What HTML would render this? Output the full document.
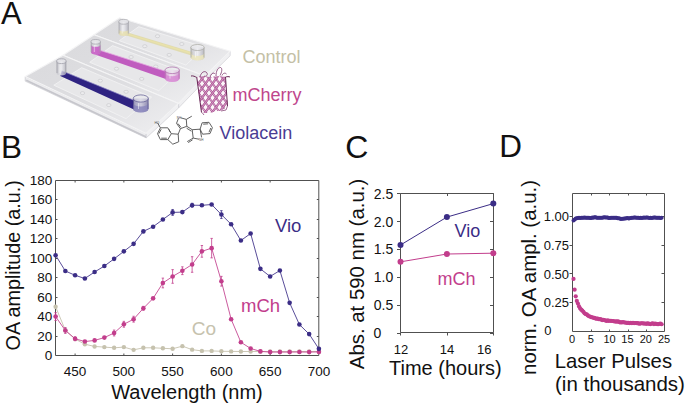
<!DOCTYPE html>
<html><head><meta charset="utf-8"><style>
html,body{margin:0;padding:0;background:#fff;}
svg{display:block;}
text{font-family:"Liberation Sans",sans-serif;}
</style></head><body>
<svg width="685" height="406" viewBox="0 0 685 406">
<rect width="685" height="406" fill="#fff"/>
<defs>
<linearGradient id="slg" x1="0" y1="0" x2="1" y2="1"><stop offset="0" stop-color="#dadadd"/><stop offset="0.5" stop-color="#dedee1"/><stop offset="1" stop-color="#efeff1"/></linearGradient>
<linearGradient id="cylV" x1="0" y1="0" x2="1" y2="0"><stop offset="0" stop-color="#7e7aa8"/><stop offset="0.5" stop-color="#c4c2da"/><stop offset="1" stop-color="#6e6a9c"/></linearGradient>
<linearGradient id="cylM" x1="0" y1="0" x2="1" y2="0"><stop offset="0" stop-color="#d596d2"/><stop offset="0.5" stop-color="#f0d8ee"/><stop offset="1" stop-color="#c97fc6"/></linearGradient>
<linearGradient id="cylY" x1="0" y1="0" x2="1" y2="0"><stop offset="0" stop-color="#cfccbb"/><stop offset="0.5" stop-color="#efede2"/><stop offset="1" stop-color="#c2bfac"/></linearGradient>
<linearGradient id="cylC" x1="0" y1="0" x2="1" y2="0"><stop offset="0" stop-color="#bdbdc4"/><stop offset="0.5" stop-color="#eeeef2"/><stop offset="1" stop-color="#aeaeb8"/></linearGradient>
<linearGradient id="thk" x1="0" y1="0" x2="0" y2="1"><stop offset="0" stop-color="#f6f6f7"/><stop offset="1" stop-color="#cfcfd5"/></linearGradient>
</defs>
<polygon points="205.0,76.0 230.2,51.2 230.2,55.7 205.0,80.5" fill="#f0f0f2" stroke="#cacace" stroke-width="0.6"/>
<polygon points="94.0,34.7 119.6,17.8 230.2,51.2 205.0,76.0" fill="url(#slg)" stroke="#f4f4f5" stroke-width="1.1" stroke-linejoin="round"/>
<polygon points="119.3,40.7 138.7,26.7 205.0,47.3 185.8,65.0" fill="#e7e7e9" stroke="#f2f2f3" stroke-width="0.9"/>
<ellipse cx="144.8" cy="46.2" rx="2.2" ry="1.5" fill="#ececee" stroke="#c6c6ca" stroke-width="0.6"/>
<ellipse cx="157.5" cy="36.2" rx="2.2" ry="1.5" fill="#ececee" stroke="#c6c6ca" stroke-width="0.6"/>
<ellipse cx="169.2" cy="54.9" rx="2.2" ry="1.5" fill="#ececee" stroke="#c6c6ca" stroke-width="0.6"/>
<ellipse cx="181.8" cy="44.0" rx="2.2" ry="1.5" fill="#ececee" stroke="#c6c6ca" stroke-width="0.6"/>
<polygon points="178.6,103.4 205.0,76.0 205.0,80.5 178.6,107.9" fill="#f0f0f2" stroke="#cacace" stroke-width="0.6"/>
<polygon points="63.0,55.3 94.0,34.7 205.0,76.0 178.6,103.4" fill="url(#slg)" stroke="#f4f4f5" stroke-width="1.1" stroke-linejoin="round"/>
<polygon points="89.7,62.3 112.6,45.6 179.5,70.9 158.8,90.7" fill="#e7e7e9" stroke="#f2f2f3" stroke-width="0.9"/>
<ellipse cx="116.5" cy="68.7" rx="2.2" ry="1.5" fill="#ececee" stroke="#c6c6ca" stroke-width="0.6"/>
<ellipse cx="131.1" cy="57.0" rx="2.2" ry="1.5" fill="#ececee" stroke="#c6c6ca" stroke-width="0.6"/>
<ellipse cx="141.7" cy="78.9" rx="2.2" ry="1.5" fill="#ececee" stroke="#c6c6ca" stroke-width="0.6"/>
<ellipse cx="155.8" cy="66.5" rx="2.2" ry="1.5" fill="#ececee" stroke="#c6c6ca" stroke-width="0.6"/>
<polygon points="25.2,76.6 146.2,133.4 146.2,137.9 25.2,81.1" fill="#ececee" stroke="#c4c4ca" stroke-width="0.6"/>
<path d="M26.2,80.2 L146.2,137.0" stroke="#c6c6cc" stroke-width="1.6"/>
<polygon points="146.2,133.4 178.6,103.4 178.6,107.9 146.2,137.9" fill="#f0f0f2" stroke="#cacace" stroke-width="0.6"/>
<polygon points="25.2,76.6 63.0,55.3 178.6,103.4 146.2,133.4" fill="url(#slg)" stroke="#f4f4f5" stroke-width="1.1" stroke-linejoin="round"/>
<polygon points="53.8,85.2 81.7,67.7 151.5,97.2 126.0,118.6" fill="#e7e7e9" stroke="#f2f2f3" stroke-width="0.9"/>
<ellipse cx="82.5" cy="93.1" rx="2.2" ry="1.5" fill="#ececee" stroke="#c6c6ca" stroke-width="0.6"/>
<ellipse cx="100.3" cy="80.7" rx="2.2" ry="1.5" fill="#ececee" stroke="#c6c6ca" stroke-width="0.6"/>
<ellipse cx="108.8" cy="105.1" rx="2.2" ry="1.5" fill="#ececee" stroke="#c6c6ca" stroke-width="0.6"/>
<ellipse cx="126.1" cy="91.8" rx="2.2" ry="1.5" fill="#ececee" stroke="#c6c6ca" stroke-width="0.6"/><polygon points="124.5,31.6 193,52.2 193,56.0 123.3,34.6" fill="#dfd9aa" opacity="0.9"/>
<polygon points="124.5,32.4 193,53.0 193,54.4 124,33.6" fill="#ece4a8" opacity="0.8"/>
<path d="M118.7 21.8 V33.5 A5.0 2.4 0 0 0 128.7 33.5 V21.8 Z" fill="url(#cylC)" opacity="0.8"/>
<path d="M118.7 29.0 V33.5 A5.0 2.4 0 0 0 128.7 33.5 V29.0 A5.0 2.4 0 0 1 118.7 29.0 Z" fill="#e8e0b0" opacity="0.85"/>
<path d="M119.1 21.8 V33.5 M128.3 21.8 V33.5" stroke="#a8a8ae" stroke-width="0.8" opacity="0.9"/>
<path d="M122.2 25.2 V33.5" stroke="#ffffff" stroke-width="1.0" opacity="0.5"/>
<ellipse cx="123.7" cy="21.8" rx="5.0" ry="2.4" fill="#ececf0" fill-opacity="0.5" stroke="#a8a8ae" stroke-width="0.7"/>
<path d="M190.7 47.5 V57.5 A6.8 3.0 0 0 0 204.3 57.5 V47.5 Z" fill="url(#cylC)" opacity="0.8"/>
<path d="M190.7 53.0 V57.5 A6.8 3.0 0 0 0 204.3 57.5 V53.0 A6.8 3.0 0 0 1 190.7 53.0 Z" fill="#ece6bc" opacity="0.85"/>
<path d="M191.1 47.5 V57.5 M203.9 47.5 V57.5" stroke="#a8a8a0" stroke-width="0.8" opacity="0.9"/>
<path d="M195.5 51.5 V57.5" stroke="#ffffff" stroke-width="1.0" opacity="0.5"/>
<ellipse cx="197.5" cy="47.5" rx="6.8" ry="3.0" fill="#ececf0" fill-opacity="0.5" stroke="#a8a8a0" stroke-width="0.7"/>
<polygon points="96.5,49.2 166.5,71.6 166.5,79.2 93.5,53.9" fill="#c05cbf"/>
<path d="M96.5 49.2 L166.5 71.6" stroke="#e3a6e0" stroke-width="0.8"/>
<path d="M90.9 41.8 V52.0 A4.8 2.3 0 0 0 100.5 52.0 V41.8 Z" fill="url(#cylC)" opacity="0.75"/>
<path d="M90.9 44.5 V52.0 A4.8 2.3 0 0 0 100.5 52.0 V44.5 A4.8 2.3 0 0 1 90.9 44.5 Z" fill="#c85ac6" opacity="0.85"/>
<path d="M91.3 41.8 V52.0 M100.1 41.8 V52.0" stroke="#a4a4ac" stroke-width="0.8" opacity="0.9"/>
<path d="M94.3 45.1 V52.0" stroke="#ffffff" stroke-width="1.0" opacity="0.5"/>
<ellipse cx="95.7" cy="41.8" rx="4.8" ry="2.3" fill="#ececf0" fill-opacity="0.5" stroke="#a4a4ac" stroke-width="0.7"/>
<path d="M164.9 70.3 V78.6 A7.3 3.3 0 0 0 179.5 78.6 V70.3 Z" fill="url(#cylM)" opacity="0.75"/>
<path d="M164.9 73.0 V78.6 A7.3 3.3 0 0 0 179.5 78.6 V73.0 A7.3 3.3 0 0 1 164.9 73.0 Z" fill="#d78ad4" opacity="0.85"/>
<path d="M165.3 70.3 V78.6 M179.1 70.3 V78.6" stroke="#ad6aaa" stroke-width="0.8" opacity="0.9"/>
<path d="M170.0 74.6 V78.6" stroke="#ffffff" stroke-width="1.0" opacity="0.5"/>
<ellipse cx="172.2" cy="70.3" rx="7.3" ry="3.3" fill="#ececf0" fill-opacity="0.5" stroke="#ad6aaa" stroke-width="0.7"/>
<polygon points="61.8,70.8 134,100.3 134,109.6 60.3,76.0" fill="#2f2382"/>
<path d="M61.8 70.8 L134 100.3" stroke="#8c86c4" stroke-width="0.7"/>
<path d="M56.6 61.2 V73.0 A4.8 2.4 0 0 0 66.2 73.0 V61.2 Z" fill="url(#cylC)" opacity="0.75"/>
<path d="M57.0 61.2 V73.0 M65.8 61.2 V73.0" stroke="#9c9ca6" stroke-width="0.8" opacity="0.9"/>
<path d="M60.0 64.6 V73.0" stroke="#ffffff" stroke-width="1.0" opacity="0.5"/>
<ellipse cx="61.4" cy="61.2" rx="4.8" ry="2.4" fill="#ececf0" fill-opacity="0.5" stroke="#9c9ca6" stroke-width="0.7"/>
<path d="M133.2 98.5 V109.0 A7.6 3.6 0 0 0 148.4 109.0 V98.5 Z" fill="url(#cylV)" opacity="0.75"/>
<path d="M133.2 103.0 V109.0 A7.6 3.6 0 0 0 148.4 109.0 V103.0 A7.6 3.6 0 0 1 133.2 103.0 Z" fill="#8a86bc" opacity="0.85"/>
<path d="M133.6 98.5 V109.0 M148.0 98.5 V109.0" stroke="#5c5890" stroke-width="0.8" opacity="0.9"/>
<path d="M138.5 103.1 V109.0" stroke="#ffffff" stroke-width="1.0" opacity="0.5"/>
<ellipse cx="140.8" cy="98.5" rx="7.6" ry="3.6" fill="#ececf0" fill-opacity="0.5" stroke="#5c5890" stroke-width="0.7"/><defs><clipPath id="barrel"><path d="M196.8 77.5 C200 75.5 206 76 210 77.5 C215 76 221 76 225.5 77 L227.5 106 C225 109 221 111 216 111.5 C211 112.5 205 113.5 201.5 112.5 Z"/></clipPath></defs>
<path d="M196.8 77.5 C200 75.5 206 76 210 77.5 C215 76 221 76 225.5 77 L227.5 106 C225 109 221 111 216 111.5 C211 112.5 205 113.5 201.5 112.5 Z" fill="#fdf6fa"/>
<g clip-path="url(#barrel)" fill="none">
<path d="M103.0 68 L137.0 114 M110.0 68 L144.0 114 M117.0 68 L151.0 114 M124.0 68 L158.0 114 M131.0 68 L165.0 114 M138.0 68 L172.0 114 M145.0 68 L179.0 114 M152.0 68 L186.0 114 M159.0 68 L193.0 114 M166.0 68 L200.0 114 M173.0 68 L207.0 114 M180.0 68 L214.0 114 M187.0 68 L221.0 114 M194.0 68 L228.0 114 M201.0 68 L235.0 114 M208.0 68 L242.0 114 M215.0 68 L249.0 114 M222.0 68 L256.0 114 M229.0 68 L263.0 114 M236.0 68 L270.0 114 M243.0 68 L277.0 114 M250.0 68 L284.0 114 M257.0 68 L291.0 114 M264.0 68 L298.0 114 M271.0 68 L305.0 114 M278.0 68 L312.0 114" stroke="#a55a92" stroke-width="2.0"/>
<path d="M103.0 68 L137.0 114 M110.0 68 L144.0 114 M117.0 68 L151.0 114 M124.0 68 L158.0 114 M131.0 68 L165.0 114 M138.0 68 L172.0 114 M145.0 68 L179.0 114 M152.0 68 L186.0 114 M159.0 68 L193.0 114 M166.0 68 L200.0 114 M173.0 68 L207.0 114 M180.0 68 L214.0 114 M187.0 68 L221.0 114 M194.0 68 L228.0 114 M201.0 68 L235.0 114 M208.0 68 L242.0 114 M215.0 68 L249.0 114 M222.0 68 L256.0 114 M229.0 68 L263.0 114 M236.0 68 L270.0 114 M243.0 68 L277.0 114 M250.0 68 L284.0 114 M257.0 68 L291.0 114 M264.0 68 L298.0 114 M271.0 68 L305.0 114 M278.0 68 L312.0 114" stroke="#e2a8d2" stroke-width="1.0"/>
<path d="M106.0 114 L140.0 68 M113.0 114 L147.0 68 M120.0 114 L154.0 68 M127.0 114 L161.0 68 M134.0 114 L168.0 68 M141.0 114 L175.0 68 M148.0 114 L182.0 68 M155.0 114 L189.0 68 M162.0 114 L196.0 68 M169.0 114 L203.0 68 M176.0 114 L210.0 68 M183.0 114 L217.0 68 M190.0 114 L224.0 68 M197.0 114 L231.0 68 M204.0 114 L238.0 68 M211.0 114 L245.0 68 M218.0 114 L252.0 68 M225.0 114 L259.0 68 M232.0 114 L266.0 68 M239.0 114 L273.0 68 M246.0 114 L280.0 68 M253.0 114 L287.0 68 M260.0 114 L294.0 68 M267.0 114 L301.0 68 M274.0 114 L308.0 68 M281.0 114 L315.0 68" stroke="#9c5089" stroke-width="2.2"/>
<path d="M106.0 114 L140.0 68 M113.0 114 L147.0 68 M120.0 114 L154.0 68 M127.0 114 L161.0 68 M134.0 114 L168.0 68 M141.0 114 L175.0 68 M148.0 114 L182.0 68 M155.0 114 L189.0 68 M162.0 114 L196.0 68 M169.0 114 L203.0 68 M176.0 114 L210.0 68 M183.0 114 L217.0 68 M190.0 114 L224.0 68 M197.0 114 L231.0 68 M204.0 114 L238.0 68 M211.0 114 L245.0 68 M218.0 114 L252.0 68 M225.0 114 L259.0 68 M232.0 114 L266.0 68 M239.0 114 L273.0 68 M246.0 114 L280.0 68 M253.0 114 L287.0 68 M260.0 114 L294.0 68 M267.0 114 L301.0 68 M274.0 114 L308.0 68 M281.0 114 L315.0 68" stroke="#d68cc0" stroke-width="1.1"/>
</g>
<path d="M191 76 C193 75.5 195 76.5 196.8 77.5 M196.8 77.5 L201.5 112.5 M225.5 77 L227.5 106 M225.5 77 C227 76.5 229 76.5 230 77" stroke="#6a2a58" stroke-width="1.0" fill="none"/>
<path d="M200 77 C201 72 205 70 207 73 C208 75 206 77 204 76 M210 77.5 C211 73 214 72 215 74 M216 76 C216 71 218 67.5 220.5 67.5 C222.5 68 222 72 220 75.5 M222 75.5 C223 73 225 72.5 226.5 74" stroke="#8a4a7a" stroke-width="0.9" fill="none"/>
<path d="M202 112.5 L204 115 M221 111 L226 110 L227.5 106" stroke="#8a4a7a" stroke-width="0.8" fill="none"/>
<path d="M160.4 127.8 L167.8 127.8 L171.3 133.7 L167.8 139.6 L160.4 139.6 L157.5 133.7 Z M161.2 129.2 L158.8 133.7 M161.2 138.2 L166.8 138.2 M168.8 129.2 L170.2 132 M160.4 127.8 L157.5 122.8 M171.3 133.7 L178.2 134.2 L178.7 141.8 L172.8 144.2 L167.8 139.6 M178.2 134.2 L180.4 128.7 M180.4 128.7 L176.5 123.3 L178.4 118.6 M180.8 117.8 L186.3 119.4 L186.8 126.3 L180.4 128.7 M177.9 123.5 L181.0 127.4 M186.3 119.4 L191.8 116.2 M186.8 126.3 L192.2 129.7 M186.6 128.2 L191.4 131.2 M192.2 129.7 L200.1 129.2 L201.6 137.4 M199 139.2 L193.2 138.1 L192.2 129.7 M193.2 138.1 L187.2 141.6 M192.6 139.8 L188.2 142.6 M200.1 129.2 L202.1 122.8 L209 122.3 L212.4 127.7 L210 133.6 L202.6 134.2 Z M203.2 124.2 L208.2 123.8 M210.8 128 L209 132.2" stroke="#505050" stroke-width="0.9" fill="none" stroke-linejoin="round"/>
<text x="154.5" y="124" font-size="3.2" fill="#505050">HO</text>
<text x="176.8" y="118.8" font-size="3" fill="#505050">NH</text>
<text x="199" y="141" font-size="3" fill="#505050">NH</text>
<g stroke="#505050" stroke-width="1" fill="none">
<path d="M55.5 180.5H318.8V355.5H55.5Z"/>
<path d="M55.5 336.5h2M318.8 336.5h-2"/>
<path d="M55.5 316.5h2M318.8 316.5h-2"/>
<path d="M55.5 297.5h2M318.8 297.5h-2"/>
<path d="M55.5 277.5h2M318.8 277.5h-2"/>
<path d="M55.5 258.5h2M318.8 258.5h-2"/>
<path d="M55.5 238.5h2M318.8 238.5h-2"/>
<path d="M55.5 219.5h2M318.8 219.5h-2"/>
<path d="M55.5 199.5h2M318.8 199.5h-2"/>
<path d="M75.10 355.5v-2M75.10 180.5v2"/>
<path d="M123.86 355.5v-2M123.86 180.5v2"/>
<path d="M172.62 355.5v-2M172.62 180.5v2"/>
<path d="M221.38 355.5v-2M221.38 180.5v2"/>
<path d="M270.14 355.5v-2M270.14 180.5v2"/>
</g>
<polyline points="55.60,306.73 65.35,330.28 75.10,339.04 84.86,344.20 94.61,346.44 104.36,347.12 114.11,347.80 123.86,347.12 133.61,349.85 143.37,347.80 153.12,347.80 162.87,348.29 172.62,348.78 182.37,346.15 192.13,349.65 201.88,350.92 211.63,350.92 221.38,351.31 231.13,351.40 240.89,351.50 250.64,351.50 260.39,351.50 270.14,351.50 279.89,351.50 289.64,351.50 299.40,351.50 309.15,351.50 318.90,351.50" fill="none" stroke="#c6c2ae" stroke-width="0.9" stroke-linejoin="round"/>
<circle cx="55.60" cy="306.73" r="2.2" fill="#c6c2ae"/>
<circle cx="65.35" cy="330.28" r="2.2" fill="#c6c2ae"/>
<circle cx="75.10" cy="339.04" r="2.2" fill="#c6c2ae"/>
<circle cx="84.86" cy="344.20" r="2.2" fill="#c6c2ae"/>
<circle cx="94.61" cy="346.44" r="2.2" fill="#c6c2ae"/>
<circle cx="104.36" cy="347.12" r="2.2" fill="#c6c2ae"/>
<circle cx="114.11" cy="347.80" r="2.2" fill="#c6c2ae"/>
<circle cx="123.86" cy="347.12" r="2.2" fill="#c6c2ae"/>
<circle cx="133.61" cy="349.85" r="2.2" fill="#c6c2ae"/>
<circle cx="143.37" cy="347.80" r="2.2" fill="#c6c2ae"/>
<circle cx="153.12" cy="347.80" r="2.2" fill="#c6c2ae"/>
<circle cx="162.87" cy="348.29" r="2.2" fill="#c6c2ae"/>
<circle cx="172.62" cy="348.78" r="2.2" fill="#c6c2ae"/>
<circle cx="182.37" cy="346.15" r="2.2" fill="#c6c2ae"/>
<circle cx="192.13" cy="349.65" r="2.2" fill="#c6c2ae"/>
<circle cx="201.88" cy="350.92" r="2.2" fill="#c6c2ae"/>
<circle cx="211.63" cy="350.92" r="2.2" fill="#c6c2ae"/>
<circle cx="221.38" cy="351.31" r="2.2" fill="#c6c2ae"/>
<circle cx="231.13" cy="351.40" r="2.2" fill="#c6c2ae"/>
<circle cx="240.89" cy="351.50" r="2.2" fill="#c6c2ae"/>
<circle cx="250.64" cy="351.50" r="2.2" fill="#c6c2ae"/>
<circle cx="260.39" cy="351.50" r="2.2" fill="#c6c2ae"/>
<circle cx="270.14" cy="351.50" r="2.2" fill="#c6c2ae"/>
<circle cx="279.89" cy="351.50" r="2.2" fill="#c6c2ae"/>
<circle cx="289.64" cy="351.50" r="2.2" fill="#c6c2ae"/>
<circle cx="299.40" cy="351.50" r="2.2" fill="#c6c2ae"/>
<circle cx="309.15" cy="351.50" r="2.2" fill="#c6c2ae"/>
<circle cx="318.90" cy="351.50" r="2.2" fill="#c6c2ae"/>
<polyline points="55.60,316.56 65.35,330.48 75.10,338.75 84.86,341.57 94.61,340.41 104.36,337.58 114.11,333.01 123.86,324.25 133.61,319.19 143.37,308.29 153.12,298.36 162.87,282.98 172.62,276.46 182.37,270.71 192.13,264.49 201.88,251.35 211.63,248.13 221.38,281.23 231.13,319.19 240.89,342.25 250.64,348.48 260.39,351.40 270.14,352.09 279.89,352.09 289.64,352.09 299.40,351.99 309.15,352.09 318.90,351.89" fill="none" stroke="#c23d8c" stroke-width="0.85" stroke-linejoin="round"/>
<path d="M55.60 312.67V320.45M54.40 312.67h2.40M54.40 320.45h2.40" stroke="#c23d8c" stroke-width="0.8" fill="none"/>
<path d="M65.35 327.56V333.40M64.15 327.56h2.40M64.15 333.40h2.40" stroke="#c23d8c" stroke-width="0.8" fill="none"/>
<path d="M75.10 336.80V340.70M73.90 336.80h2.40M73.90 340.70h2.40" stroke="#c23d8c" stroke-width="0.8" fill="none"/>
<path d="M114.11 330.09V335.93M112.91 330.09h2.40M112.91 335.93h2.40" stroke="#c23d8c" stroke-width="0.8" fill="none"/>
<path d="M123.86 321.33V327.17M122.66 321.33h2.40M122.66 327.17h2.40" stroke="#c23d8c" stroke-width="0.8" fill="none"/>
<path d="M133.61 316.27V322.11M132.41 316.27h2.40M132.41 322.11h2.40" stroke="#c23d8c" stroke-width="0.8" fill="none"/>
<path d="M143.37 306.34V310.23M142.17 306.34h2.40M142.17 310.23h2.40" stroke="#c23d8c" stroke-width="0.8" fill="none"/>
<path d="M162.87 278.11V287.85M161.67 278.11h2.40M161.67 287.85h2.40" stroke="#c23d8c" stroke-width="0.8" fill="none"/>
<path d="M172.62 269.64V283.27M171.42 269.64h2.40M171.42 283.27h2.40" stroke="#c23d8c" stroke-width="0.8" fill="none"/>
<path d="M182.37 266.82V274.61M181.17 266.82h2.40M181.17 274.61h2.40" stroke="#c23d8c" stroke-width="0.8" fill="none"/>
<path d="M192.13 256.70V272.27M190.93 256.70h2.40M190.93 272.27h2.40" stroke="#c23d8c" stroke-width="0.8" fill="none"/>
<path d="M201.88 245.51V257.19M200.68 245.51h2.40M200.68 257.19h2.40" stroke="#c23d8c" stroke-width="0.8" fill="none"/>
<path d="M211.63 238.40V257.87M210.43 238.40h2.40M210.43 257.87h2.40" stroke="#c23d8c" stroke-width="0.8" fill="none"/>
<path d="M221.38 276.36V286.09M220.18 276.36h2.40M220.18 286.09h2.40" stroke="#c23d8c" stroke-width="0.8" fill="none"/>
<circle cx="55.60" cy="316.56" r="2.3" fill="#c23d8c"/>
<circle cx="65.35" cy="330.48" r="2.3" fill="#c23d8c"/>
<circle cx="75.10" cy="338.75" r="2.3" fill="#c23d8c"/>
<circle cx="84.86" cy="341.57" r="2.3" fill="#c23d8c"/>
<circle cx="94.61" cy="340.41" r="2.3" fill="#c23d8c"/>
<circle cx="104.36" cy="337.58" r="2.3" fill="#c23d8c"/>
<circle cx="114.11" cy="333.01" r="2.3" fill="#c23d8c"/>
<circle cx="123.86" cy="324.25" r="2.3" fill="#c23d8c"/>
<circle cx="133.61" cy="319.19" r="2.3" fill="#c23d8c"/>
<circle cx="143.37" cy="308.29" r="2.3" fill="#c23d8c"/>
<circle cx="153.12" cy="298.36" r="2.3" fill="#c23d8c"/>
<circle cx="162.87" cy="282.98" r="2.3" fill="#c23d8c"/>
<circle cx="172.62" cy="276.46" r="2.3" fill="#c23d8c"/>
<circle cx="182.37" cy="270.71" r="2.3" fill="#c23d8c"/>
<circle cx="192.13" cy="264.49" r="2.3" fill="#c23d8c"/>
<circle cx="201.88" cy="251.35" r="2.3" fill="#c23d8c"/>
<circle cx="211.63" cy="248.13" r="2.3" fill="#c23d8c"/>
<circle cx="221.38" cy="281.23" r="2.3" fill="#c23d8c"/>
<circle cx="231.13" cy="319.19" r="2.3" fill="#c23d8c"/>
<circle cx="240.89" cy="342.25" r="2.3" fill="#c23d8c"/>
<circle cx="250.64" cy="348.48" r="2.3" fill="#c23d8c"/>
<circle cx="260.39" cy="351.40" r="2.3" fill="#c23d8c"/>
<circle cx="270.14" cy="352.09" r="2.3" fill="#c23d8c"/>
<circle cx="279.89" cy="352.09" r="2.3" fill="#c23d8c"/>
<circle cx="289.64" cy="352.09" r="2.3" fill="#c23d8c"/>
<circle cx="299.40" cy="351.99" r="2.3" fill="#c23d8c"/>
<circle cx="309.15" cy="352.09" r="2.3" fill="#c23d8c"/>
<circle cx="318.90" cy="351.89" r="2.3" fill="#c23d8c"/>
<polyline points="55.60,255.24 65.35,271.01 75.10,275.29 84.86,278.50 94.61,271.98 104.36,266.04 114.11,258.84 123.86,251.35 133.61,243.85 143.37,231.39 153.12,226.72 162.87,219.52 172.62,212.41 182.37,212.12 192.13,205.21 201.88,205.31 211.63,204.53 221.38,214.55 231.13,224.29 240.89,240.54 250.64,233.53 260.39,268.87 270.14,276.46 279.89,270.52 289.64,302.83 299.40,324.54 309.15,334.08 318.90,348.87" fill="none" stroke="#3b2d86" stroke-width="0.85" stroke-linejoin="round"/>
<path d="M172.62 209.49V215.33M171.42 209.49h2.40M171.42 215.33h2.40" stroke="#3b2d86" stroke-width="0.8" fill="none"/>
<path d="M192.13 203.26V207.16M190.93 203.26h2.40M190.93 207.16h2.40" stroke="#3b2d86" stroke-width="0.8" fill="none"/>
<path d="M221.38 210.66V218.45M220.18 210.66h2.40M220.18 218.45h2.40" stroke="#3b2d86" stroke-width="0.8" fill="none"/>
<circle cx="55.60" cy="255.24" r="2.3" fill="#3b2d86"/>
<circle cx="65.35" cy="271.01" r="2.3" fill="#3b2d86"/>
<circle cx="75.10" cy="275.29" r="2.3" fill="#3b2d86"/>
<circle cx="84.86" cy="278.50" r="2.3" fill="#3b2d86"/>
<circle cx="94.61" cy="271.98" r="2.3" fill="#3b2d86"/>
<circle cx="104.36" cy="266.04" r="2.3" fill="#3b2d86"/>
<circle cx="114.11" cy="258.84" r="2.3" fill="#3b2d86"/>
<circle cx="123.86" cy="251.35" r="2.3" fill="#3b2d86"/>
<circle cx="133.61" cy="243.85" r="2.3" fill="#3b2d86"/>
<circle cx="143.37" cy="231.39" r="2.3" fill="#3b2d86"/>
<circle cx="153.12" cy="226.72" r="2.3" fill="#3b2d86"/>
<circle cx="162.87" cy="219.52" r="2.3" fill="#3b2d86"/>
<circle cx="172.62" cy="212.41" r="2.3" fill="#3b2d86"/>
<circle cx="182.37" cy="212.12" r="2.3" fill="#3b2d86"/>
<circle cx="192.13" cy="205.21" r="2.3" fill="#3b2d86"/>
<circle cx="201.88" cy="205.31" r="2.3" fill="#3b2d86"/>
<circle cx="211.63" cy="204.53" r="2.3" fill="#3b2d86"/>
<circle cx="221.38" cy="214.55" r="2.3" fill="#3b2d86"/>
<circle cx="231.13" cy="224.29" r="2.3" fill="#3b2d86"/>
<circle cx="240.89" cy="240.54" r="2.3" fill="#3b2d86"/>
<circle cx="250.64" cy="233.53" r="2.3" fill="#3b2d86"/>
<circle cx="260.39" cy="268.87" r="2.3" fill="#3b2d86"/>
<circle cx="270.14" cy="276.46" r="2.3" fill="#3b2d86"/>
<circle cx="279.89" cy="270.52" r="2.3" fill="#3b2d86"/>
<circle cx="289.64" cy="302.83" r="2.3" fill="#3b2d86"/>
<circle cx="299.40" cy="324.54" r="2.3" fill="#3b2d86"/>
<circle cx="309.15" cy="334.08" r="2.3" fill="#3b2d86"/>
<circle cx="318.90" cy="348.87" r="2.3" fill="#3b2d86"/>
<text x="52.3" y="360.00" text-anchor="end" font-size="13.5" fill="#111">0</text>
<text x="52.3" y="340.53" text-anchor="end" font-size="13.5" fill="#111">20</text>
<text x="52.3" y="321.07" text-anchor="end" font-size="13.5" fill="#111">40</text>
<text x="52.3" y="301.60" text-anchor="end" font-size="13.5" fill="#111">60</text>
<text x="52.3" y="282.13" text-anchor="end" font-size="13.5" fill="#111">80</text>
<text x="52.3" y="262.67" text-anchor="end" font-size="13.5" fill="#111">100</text>
<text x="52.3" y="243.20" text-anchor="end" font-size="13.5" fill="#111">120</text>
<text x="52.3" y="223.73" text-anchor="end" font-size="13.5" fill="#111">140</text>
<text x="52.3" y="204.27" text-anchor="end" font-size="13.5" fill="#111">160</text>
<text x="52.3" y="184.80" text-anchor="end" font-size="13.5" fill="#111">180</text>
<text x="75.10" y="375.8" text-anchor="middle" font-size="13.5" fill="#111">450</text>
<text x="123.86" y="375.8" text-anchor="middle" font-size="13.5" fill="#111">500</text>
<text x="172.62" y="375.8" text-anchor="middle" font-size="13.5" fill="#111">550</text>
<text x="221.38" y="375.8" text-anchor="middle" font-size="13.5" fill="#111">600</text>
<text x="270.14" y="375.8" text-anchor="middle" font-size="13.5" fill="#111">650</text>
<text x="318.90" y="375.8" text-anchor="middle" font-size="13.5" fill="#111">700</text>
<text x="187" y="399.2" text-anchor="middle" font-size="20" fill="#111">Wavelength (nm)</text>
<text transform="translate(19.9 265.3) rotate(-90)" text-anchor="middle" font-size="19.8" fill="#111">OA amplitude (a.u.)</text>
<text x="275" y="232.2" font-size="18.5" fill="#3b2d86">Vio</text>
<text x="241" y="312" font-size="18.5" fill="#c23d8c">mCh</text>
<text x="191.8" y="334.6" font-size="19" fill="#c6c2ae">Co</text>
<g stroke="#505050" stroke-width="1" fill="none">
<path d="M400.5 193.5H493.5V332.5H400.5Z"/>
<path d="M400.5 333.5h-3.5M493.5 333.5h-3.5"/>
<path d="M400.5 305.5h-3.5M493.5 305.5h-3.5"/>
<path d="M400.5 277.5h-3.5M493.5 277.5h-3.5"/>
<path d="M400.5 249.5h-3.5M493.5 249.5h-3.5"/>
<path d="M400.5 221.5h-3.5M493.5 221.5h-3.5"/>
<path d="M400.5 193.5h-3.5M493.5 193.5h-3.5"/>
<path d="M400.5 332.5v3M400.5 193.5v2.5"/>
<path d="M447.5 332.5v3M447.5 193.5v2.5"/>
<path d="M493.5 332.5v3M493.5 193.5v2.5"/>
</g>
<polyline points="400.50,261.84 446.90,254.03 493.30,253.20" fill="none" stroke="#c23d8c" stroke-width="1" stroke-linejoin="round"/>
<circle cx="400.50" cy="261.84" r="3" fill="#c23d8c"/>
<circle cx="446.90" cy="254.03" r="3" fill="#c23d8c"/>
<circle cx="493.30" cy="253.20" r="3" fill="#c23d8c"/>
<polyline points="400.50,245.01 446.90,217.09 493.30,203.61" fill="none" stroke="#3b2d86" stroke-width="1" stroke-linejoin="round"/>
<circle cx="400.50" cy="245.01" r="3" fill="#3b2d86"/>
<circle cx="446.90" cy="217.09" r="3" fill="#3b2d86"/>
<circle cx="493.30" cy="203.61" r="3" fill="#3b2d86"/>
<text x="377.4" y="337.90" text-anchor="middle" font-size="14" fill="#111">0</text>
<text x="393.3" y="310.14" text-anchor="end" font-size="14" fill="#111">0.5</text>
<text x="393.3" y="282.28" text-anchor="end" font-size="14" fill="#111">1.0</text>
<text x="393.3" y="254.42" text-anchor="end" font-size="14" fill="#111">1.5</text>
<text x="393.3" y="226.56" text-anchor="end" font-size="14" fill="#111">2.0</text>
<text x="393.3" y="198.70" text-anchor="end" font-size="14" fill="#111">2.5</text>
<text x="401.0" y="354.4" text-anchor="middle" font-size="13" fill="#111">12</text>
<text x="447.0" y="354.4" text-anchor="middle" font-size="13" fill="#111">14</text>
<text x="484.3" y="354.4" text-anchor="middle" font-size="13" fill="#111">16</text>
<text x="445.3" y="375.4" text-anchor="middle" font-size="20" fill="#111">Time (hours)</text>
<text transform="translate(363.8 274.0) rotate(-90)" text-anchor="middle" font-size="20.4" fill="#111">Abs. at 590 nm (a.u.)</text>
<text x="454.6" y="237" font-size="18" fill="#3b2d86">Vio</text>
<text x="437.6" y="285.2" font-size="18" fill="#c23d8c">mCh</text>
<g stroke="#505050" stroke-width="1" fill="none">
<path d="M572.5 193.5H664.5V331.5H572.5Z"/>
<path d="M572.5 302.5h-3M664.5 302.5h-3"/>
<path d="M572.5 273.5h-3M664.5 273.5h-3"/>
<path d="M572.5 245.5h-3M664.5 245.5h-3"/>
<path d="M572.5 216.5h-3M664.5 216.5h-3"/>
<path d="M591.5 331.5v-2M591.5 193.5v2"/>
<path d="M609.5 331.5v-2M609.5 193.5v2"/>
<path d="M628.5 331.5v-2M628.5 193.5v2"/>
<path d="M646.5 331.5v-2M646.5 193.5v2"/>
</g>
<circle cx="573.52" cy="278.89" r="2.1" fill="#c23d8c"/>
<circle cx="574.62" cy="289.64" r="2.1" fill="#c23d8c"/>
<circle cx="575.72" cy="296.28" r="2.1" fill="#c23d8c"/>
<circle cx="576.82" cy="300.97" r="2.1" fill="#c23d8c"/>
<circle cx="577.92" cy="303.60" r="2.1" fill="#c23d8c"/>
<circle cx="579.03" cy="306.40" r="2.1" fill="#c23d8c"/>
<circle cx="580.13" cy="308.38" r="2.1" fill="#c23d8c"/>
<circle cx="581.23" cy="309.68" r="2.1" fill="#c23d8c"/>
<circle cx="582.33" cy="310.69" r="2.1" fill="#c23d8c"/>
<circle cx="583.43" cy="311.85" r="2.1" fill="#c23d8c"/>
<circle cx="584.53" cy="313.28" r="2.1" fill="#c23d8c"/>
<circle cx="585.64" cy="314.09" r="2.1" fill="#c23d8c"/>
<circle cx="586.74" cy="314.29" r="2.1" fill="#c23d8c"/>
<circle cx="587.84" cy="315.45" r="2.1" fill="#c23d8c"/>
<circle cx="588.94" cy="316.24" r="2.1" fill="#c23d8c"/>
<circle cx="590.04" cy="316.48" r="2.1" fill="#c23d8c"/>
<circle cx="591.14" cy="317.18" r="2.1" fill="#c23d8c"/>
<circle cx="592.25" cy="317.23" r="2.1" fill="#c23d8c"/>
<circle cx="593.35" cy="317.78" r="2.1" fill="#c23d8c"/>
<circle cx="594.45" cy="317.97" r="2.1" fill="#c23d8c"/>
<circle cx="595.55" cy="318.61" r="2.1" fill="#c23d8c"/>
<circle cx="596.65" cy="318.59" r="2.1" fill="#c23d8c"/>
<circle cx="597.75" cy="318.71" r="2.1" fill="#c23d8c"/>
<circle cx="598.85" cy="319.15" r="2.1" fill="#c23d8c"/>
<circle cx="599.96" cy="319.20" r="2.1" fill="#c23d8c"/>
<circle cx="601.06" cy="319.45" r="2.1" fill="#c23d8c"/>
<circle cx="602.16" cy="320.06" r="2.1" fill="#c23d8c"/>
<circle cx="603.26" cy="319.79" r="2.1" fill="#c23d8c"/>
<circle cx="604.36" cy="320.10" r="2.1" fill="#c23d8c"/>
<circle cx="605.46" cy="320.50" r="2.1" fill="#c23d8c"/>
<circle cx="606.57" cy="320.88" r="2.1" fill="#c23d8c"/>
<circle cx="607.67" cy="320.42" r="2.1" fill="#c23d8c"/>
<circle cx="608.77" cy="320.82" r="2.1" fill="#c23d8c"/>
<circle cx="609.87" cy="320.77" r="2.1" fill="#c23d8c"/>
<circle cx="610.97" cy="320.78" r="2.1" fill="#c23d8c"/>
<circle cx="612.07" cy="321.02" r="2.1" fill="#c23d8c"/>
<circle cx="613.18" cy="321.00" r="2.1" fill="#c23d8c"/>
<circle cx="614.28" cy="321.48" r="2.1" fill="#c23d8c"/>
<circle cx="615.38" cy="321.33" r="2.1" fill="#c23d8c"/>
<circle cx="616.48" cy="321.69" r="2.1" fill="#c23d8c"/>
<circle cx="617.58" cy="321.47" r="2.1" fill="#c23d8c"/>
<circle cx="618.68" cy="321.63" r="2.1" fill="#c23d8c"/>
<circle cx="619.79" cy="322.28" r="2.1" fill="#c23d8c"/>
<circle cx="620.89" cy="322.37" r="2.1" fill="#c23d8c"/>
<circle cx="621.99" cy="322.42" r="2.1" fill="#c23d8c"/>
<circle cx="623.09" cy="322.02" r="2.1" fill="#c23d8c"/>
<circle cx="624.19" cy="322.50" r="2.1" fill="#c23d8c"/>
<circle cx="625.29" cy="322.49" r="2.1" fill="#c23d8c"/>
<circle cx="626.39" cy="322.82" r="2.1" fill="#c23d8c"/>
<circle cx="627.50" cy="322.80" r="2.1" fill="#c23d8c"/>
<circle cx="628.60" cy="322.96" r="2.1" fill="#c23d8c"/>
<circle cx="629.70" cy="323.05" r="2.1" fill="#c23d8c"/>
<circle cx="630.80" cy="322.96" r="2.1" fill="#c23d8c"/>
<circle cx="631.90" cy="323.03" r="2.1" fill="#c23d8c"/>
<circle cx="633.00" cy="322.88" r="2.1" fill="#c23d8c"/>
<circle cx="634.11" cy="323.10" r="2.1" fill="#c23d8c"/>
<circle cx="635.21" cy="323.00" r="2.1" fill="#c23d8c"/>
<circle cx="636.31" cy="323.11" r="2.1" fill="#c23d8c"/>
<circle cx="637.41" cy="323.09" r="2.1" fill="#c23d8c"/>
<circle cx="638.51" cy="323.38" r="2.1" fill="#c23d8c"/>
<circle cx="639.61" cy="323.76" r="2.1" fill="#c23d8c"/>
<circle cx="640.72" cy="323.30" r="2.1" fill="#c23d8c"/>
<circle cx="641.82" cy="323.25" r="2.1" fill="#c23d8c"/>
<circle cx="642.92" cy="323.31" r="2.1" fill="#c23d8c"/>
<circle cx="644.02" cy="323.57" r="2.1" fill="#c23d8c"/>
<circle cx="645.12" cy="323.49" r="2.1" fill="#c23d8c"/>
<circle cx="646.22" cy="323.85" r="2.1" fill="#c23d8c"/>
<circle cx="647.33" cy="323.45" r="2.1" fill="#c23d8c"/>
<circle cx="648.43" cy="323.65" r="2.1" fill="#c23d8c"/>
<circle cx="649.53" cy="323.87" r="2.1" fill="#c23d8c"/>
<circle cx="650.63" cy="324.04" r="2.1" fill="#c23d8c"/>
<circle cx="651.73" cy="323.52" r="2.1" fill="#c23d8c"/>
<circle cx="652.83" cy="323.45" r="2.1" fill="#c23d8c"/>
<circle cx="653.93" cy="324.09" r="2.1" fill="#c23d8c"/>
<circle cx="655.04" cy="323.62" r="2.1" fill="#c23d8c"/>
<circle cx="656.14" cy="323.91" r="2.1" fill="#c23d8c"/>
<circle cx="657.24" cy="324.11" r="2.1" fill="#c23d8c"/>
<circle cx="658.34" cy="324.04" r="2.1" fill="#c23d8c"/>
<circle cx="659.44" cy="323.73" r="2.1" fill="#c23d8c"/>
<circle cx="660.54" cy="323.68" r="2.1" fill="#c23d8c"/>
<circle cx="661.65" cy="324.27" r="2.1" fill="#c23d8c"/>
<circle cx="573.52" cy="220.56" r="2.0" fill="#3b2d86"/>
<circle cx="574.62" cy="219.56" r="2.0" fill="#3b2d86"/>
<circle cx="575.72" cy="218.54" r="2.0" fill="#3b2d86"/>
<circle cx="576.82" cy="218.36" r="2.0" fill="#3b2d86"/>
<circle cx="577.92" cy="217.95" r="2.0" fill="#3b2d86"/>
<circle cx="579.03" cy="217.85" r="2.0" fill="#3b2d86"/>
<circle cx="580.13" cy="218.01" r="2.0" fill="#3b2d86"/>
<circle cx="581.23" cy="217.68" r="2.0" fill="#3b2d86"/>
<circle cx="582.33" cy="217.86" r="2.0" fill="#3b2d86"/>
<circle cx="583.43" cy="217.83" r="2.0" fill="#3b2d86"/>
<circle cx="584.53" cy="217.50" r="2.0" fill="#3b2d86"/>
<circle cx="585.64" cy="217.75" r="2.0" fill="#3b2d86"/>
<circle cx="586.74" cy="217.74" r="2.0" fill="#3b2d86"/>
<circle cx="587.84" cy="217.75" r="2.0" fill="#3b2d86"/>
<circle cx="588.94" cy="217.76" r="2.0" fill="#3b2d86"/>
<circle cx="590.04" cy="218.02" r="2.0" fill="#3b2d86"/>
<circle cx="591.14" cy="218.04" r="2.0" fill="#3b2d86"/>
<circle cx="592.25" cy="217.56" r="2.0" fill="#3b2d86"/>
<circle cx="593.35" cy="217.70" r="2.0" fill="#3b2d86"/>
<circle cx="594.45" cy="217.32" r="2.0" fill="#3b2d86"/>
<circle cx="595.55" cy="217.34" r="2.0" fill="#3b2d86"/>
<circle cx="596.65" cy="217.64" r="2.0" fill="#3b2d86"/>
<circle cx="597.75" cy="217.71" r="2.0" fill="#3b2d86"/>
<circle cx="598.85" cy="217.79" r="2.0" fill="#3b2d86"/>
<circle cx="599.96" cy="217.79" r="2.0" fill="#3b2d86"/>
<circle cx="601.06" cy="217.79" r="2.0" fill="#3b2d86"/>
<circle cx="602.16" cy="217.72" r="2.0" fill="#3b2d86"/>
<circle cx="603.26" cy="217.57" r="2.0" fill="#3b2d86"/>
<circle cx="604.36" cy="217.34" r="2.0" fill="#3b2d86"/>
<circle cx="605.46" cy="217.51" r="2.0" fill="#3b2d86"/>
<circle cx="606.57" cy="217.61" r="2.0" fill="#3b2d86"/>
<circle cx="607.67" cy="217.58" r="2.0" fill="#3b2d86"/>
<circle cx="608.77" cy="217.91" r="2.0" fill="#3b2d86"/>
<circle cx="609.87" cy="217.95" r="2.0" fill="#3b2d86"/>
<circle cx="610.97" cy="217.63" r="2.0" fill="#3b2d86"/>
<circle cx="612.07" cy="217.76" r="2.0" fill="#3b2d86"/>
<circle cx="613.18" cy="217.65" r="2.0" fill="#3b2d86"/>
<circle cx="614.28" cy="217.84" r="2.0" fill="#3b2d86"/>
<circle cx="615.38" cy="217.69" r="2.0" fill="#3b2d86"/>
<circle cx="616.48" cy="217.75" r="2.0" fill="#3b2d86"/>
<circle cx="617.58" cy="218.24" r="2.0" fill="#3b2d86"/>
<circle cx="618.68" cy="218.24" r="2.0" fill="#3b2d86"/>
<circle cx="619.79" cy="218.48" r="2.0" fill="#3b2d86"/>
<circle cx="620.89" cy="218.90" r="2.0" fill="#3b2d86"/>
<circle cx="621.99" cy="218.68" r="2.0" fill="#3b2d86"/>
<circle cx="623.09" cy="218.70" r="2.0" fill="#3b2d86"/>
<circle cx="624.19" cy="218.47" r="2.0" fill="#3b2d86"/>
<circle cx="625.29" cy="218.48" r="2.0" fill="#3b2d86"/>
<circle cx="626.39" cy="218.21" r="2.0" fill="#3b2d86"/>
<circle cx="627.50" cy="218.12" r="2.0" fill="#3b2d86"/>
<circle cx="628.60" cy="218.40" r="2.0" fill="#3b2d86"/>
<circle cx="629.70" cy="218.31" r="2.0" fill="#3b2d86"/>
<circle cx="630.80" cy="217.93" r="2.0" fill="#3b2d86"/>
<circle cx="631.90" cy="217.65" r="2.0" fill="#3b2d86"/>
<circle cx="633.00" cy="217.82" r="2.0" fill="#3b2d86"/>
<circle cx="634.11" cy="217.60" r="2.0" fill="#3b2d86"/>
<circle cx="635.21" cy="217.48" r="2.0" fill="#3b2d86"/>
<circle cx="636.31" cy="217.64" r="2.0" fill="#3b2d86"/>
<circle cx="637.41" cy="217.71" r="2.0" fill="#3b2d86"/>
<circle cx="638.51" cy="217.85" r="2.0" fill="#3b2d86"/>
<circle cx="639.61" cy="217.90" r="2.0" fill="#3b2d86"/>
<circle cx="640.72" cy="217.81" r="2.0" fill="#3b2d86"/>
<circle cx="641.82" cy="217.88" r="2.0" fill="#3b2d86"/>
<circle cx="642.92" cy="217.73" r="2.0" fill="#3b2d86"/>
<circle cx="644.02" cy="217.45" r="2.0" fill="#3b2d86"/>
<circle cx="645.12" cy="217.73" r="2.0" fill="#3b2d86"/>
<circle cx="646.22" cy="217.51" r="2.0" fill="#3b2d86"/>
<circle cx="647.33" cy="217.53" r="2.0" fill="#3b2d86"/>
<circle cx="648.43" cy="217.84" r="2.0" fill="#3b2d86"/>
<circle cx="649.53" cy="217.96" r="2.0" fill="#3b2d86"/>
<circle cx="650.63" cy="217.72" r="2.0" fill="#3b2d86"/>
<circle cx="651.73" cy="217.92" r="2.0" fill="#3b2d86"/>
<circle cx="652.83" cy="217.83" r="2.0" fill="#3b2d86"/>
<circle cx="653.93" cy="217.61" r="2.0" fill="#3b2d86"/>
<circle cx="655.04" cy="217.43" r="2.0" fill="#3b2d86"/>
<circle cx="656.14" cy="217.72" r="2.0" fill="#3b2d86"/>
<circle cx="657.24" cy="217.70" r="2.0" fill="#3b2d86"/>
<circle cx="658.34" cy="217.81" r="2.0" fill="#3b2d86"/>
<circle cx="659.44" cy="217.68" r="2.0" fill="#3b2d86"/>
<circle cx="660.54" cy="217.89" r="2.0" fill="#3b2d86"/>
<circle cx="661.65" cy="217.64" r="2.0" fill="#3b2d86"/>
<text x="569" y="221.00" text-anchor="end" font-size="13" fill="#111">1.00</text>
<text x="569" y="249.70" text-anchor="end" font-size="13" fill="#111">0.75</text>
<text x="569" y="278.60" text-anchor="end" font-size="13" fill="#111">0.50</text>
<text x="569" y="306.50" text-anchor="end" font-size="13" fill="#111">0.25</text>
<text x="544.3" y="335" font-size="13" fill="#111">0</text>
<text x="572.0" y="343" text-anchor="middle" font-size="11" fill="#111">0</text>
<text x="590.7" y="343" text-anchor="middle" font-size="11" fill="#111">5</text>
<text x="609.6" y="343" text-anchor="middle" font-size="11" fill="#111">10</text>
<text x="627.4" y="343" text-anchor="middle" font-size="11" fill="#111">15</text>
<text x="645.8" y="343" text-anchor="middle" font-size="11" fill="#111">20</text>
<text x="664.0" y="343" text-anchor="middle" font-size="11" fill="#111">25</text>
<text x="554.8" y="367.7" font-size="20.3" fill="#111">Laser Pulses</text>
<text x="555" y="390.8" font-size="20.5" fill="#111">(in thousands)</text>
<text transform="translate(536.4 277.5) rotate(-90)" text-anchor="middle" font-size="20.4" fill="#111">norm. OA ampl. (a.u.)</text>
<text x="1" y="24" font-size="31" fill="#111">A</text>
<text x="1" y="158" font-size="31.5" fill="#111">B</text>
<text x="345.3" y="158.3" font-size="32" fill="#111">C</text>
<text x="499.3" y="157.3" font-size="31.5" fill="#111">D</text>
<text x="242.5" y="63.4" font-size="18" fill="#c4c0a6">Control</text>
<text x="232.5" y="100.8" font-size="18" fill="#c0468c">mCherry</text>
<text x="219.5" y="138.5" font-size="18" fill="#4a3c94">Violacein</text>
</svg>
</body></html>
